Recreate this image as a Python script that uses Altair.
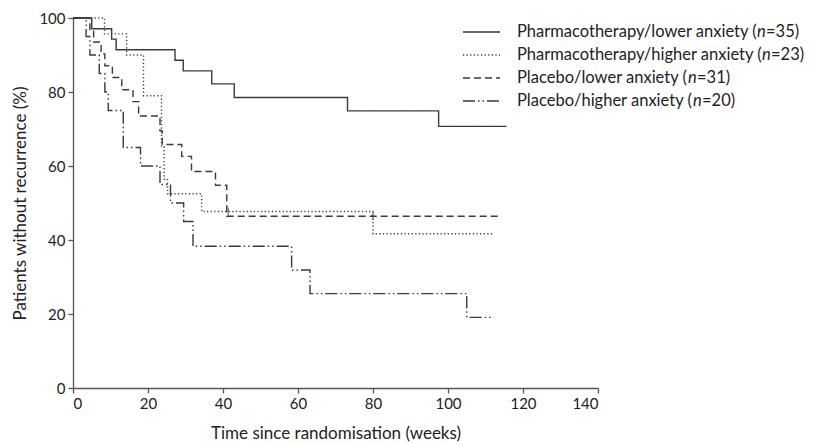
import altair as alt
import pandas as pd

series_names = ["Pharmacotherapy/lower anxiety", "Pharmacotherapy/higher anxiety",
                "Placebo/lower anxiety", "Placebo/higher anxiety"]
series_n = ["35", "23", "31", "20"]

# Kaplan-Meier step points (weeks, % without recurrence)
pharm_low_t = [0, 5, 10.3, 11.5, 27.2, 29.4, 37, 43, 73.2, 97.5, 115.6]
pharm_low_s = [100, 97.1, 94.3, 91.4, 88.6, 85.7, 82.2, 78.5, 74.9, 70.7, 70.7]

pharm_high_t = [0, 8.4, 14.3, 18.8, 23.6, 24.3, 25.2, 34.3, 80, 112]
pharm_high_s = [100, 95.7, 90.0, 79.0, 65.2, 56.5, 52.5, 47.7, 41.7, 41.7]

plac_low_t = [0, 4.5, 5.5, 7.5, 8.5, 10.5, 13, 16, 17.5, 23.2, 23.8, 29, 31.6, 38, 41, 114]
plac_low_s = [100, 96.8, 93.5, 90.3, 87.1, 83.9, 80.6, 77.4, 73.5, 69.5, 65.8, 62.6, 58.5, 54.8, 46.4, 46.4]

plac_high_t = [0, 3.5, 4.5, 7, 8.5, 9.4, 13.4, 18, 23.2, 26, 29.5, 32, 58.3, 63.2, 105, 112]
plac_high_s = [100, 95, 90, 85, 80, 75, 65, 60, 55, 50, 45, 38.3, 31.9, 25.5, 19.1, 19.1]

censor_t = [41.4, 80]
censor_s = [47.7, 46.4]

all_t = [pharm_low_t, pharm_high_t, plac_low_t, plac_high_t]
all_s = [pharm_low_s, pharm_high_s, plac_low_s, plac_high_s]

rows = []
for name, ts, ss in zip(series_names, all_t, all_s):
    for t, s in zip(ts, ss):
        rows.append({"series": name, "t": t, "s": s})
df = pd.DataFrame(rows)

dash_range = [[1, 0], [1.2, 2.4], [7, 4], [12, 3, 1.5, 3, 1.5, 3]]
INK = "#3a3a3a"
FONT = "Lato"

x = alt.X("t:Q", scale=alt.Scale(domain=[0, 140], nice=False),
          axis=alt.Axis(values=list(range(0, 141, 20)), title="Time since randomisation (weeks)",
                        titlePadding=14))
y = alt.Y("s:Q", scale=alt.Scale(domain=[0, 100], nice=False),
          axis=alt.Axis(values=list(range(0, 101, 20)), title="Patients without recurrence (%)",
                        titlePadding=9))

lines = alt.Chart(df).mark_line(interpolate="step-after", color=INK, strokeWidth=1.4).encode(
    x=x, y=y,
    strokeDash=alt.StrokeDash("series:N", scale=alt.Scale(domain=series_names, range=dash_range),
                              legend=None),
)

cens = alt.Chart(pd.DataFrame({"t": censor_t, "s": censor_s})).mark_tick(
    orient="vertical", size=8, thickness=1.2, color=INK).encode(x="t:Q", y="s:Q")

# manual legend (pixel positions relative to the plot area)
LEG_FS = 16.5
leg_layers = []
one = pd.DataFrame({"a": [0]})
row_y = [14, 37, 60, 83]
pref_w = [240, 245, 171, 176]
n_w = 9
for i, name in enumerate(series_names):
    yy = row_y[i]
    leg_layers.append(alt.Chart(one).mark_rule(color=INK, strokeWidth=1.4, strokeDash=dash_range[i]).encode(
        x=alt.value(390), x2=alt.value(427), y=alt.value(yy)))
    leg_layers.append(alt.Chart(one).mark_text(align="left", baseline="middle", font=FONT, fontSize=LEG_FS,
                                               color="#222").encode(
        x=alt.value(444), y=alt.value(yy), text=alt.value(name + " (")))
    leg_layers.append(alt.Chart(one).mark_text(align="left", baseline="middle", font=FONT, fontSize=LEG_FS,
                                               fontStyle="italic", color="#222").encode(
        x=alt.value(444 + pref_w[i]), y=alt.value(yy), text=alt.value("n")))
    leg_layers.append(alt.Chart(one).mark_text(align="left", baseline="middle", font=FONT, fontSize=LEG_FS,
                                               color="#222").encode(
        x=alt.value(444 + pref_w[i] + n_w), y=alt.value(yy), text=alt.value("=" + series_n[i] + ")")))

chart = alt.layer(lines, cens, *leg_layers).properties(
    width=525, height=370,
    padding={"left": 65, "top": 10, "right": 211, "bottom": 56},
    autosize=alt.AutoSizeParams(type="none"),
).configure_view(stroke=None).configure_axis(
    grid=False, domainColor="#555", tickColor="#555", tickSize=5, domainWidth=1.3, tickWidth=1.3,
    labelFont=FONT, labelFontSize=15, labelColor="#222", labelPadding=3,
    titleFont=FONT, titleFontSize=17, titleFontWeight="normal", titleColor="#222",
)

chart.save("out.html", embed_options={"renderer": "svg", "actions": False})
